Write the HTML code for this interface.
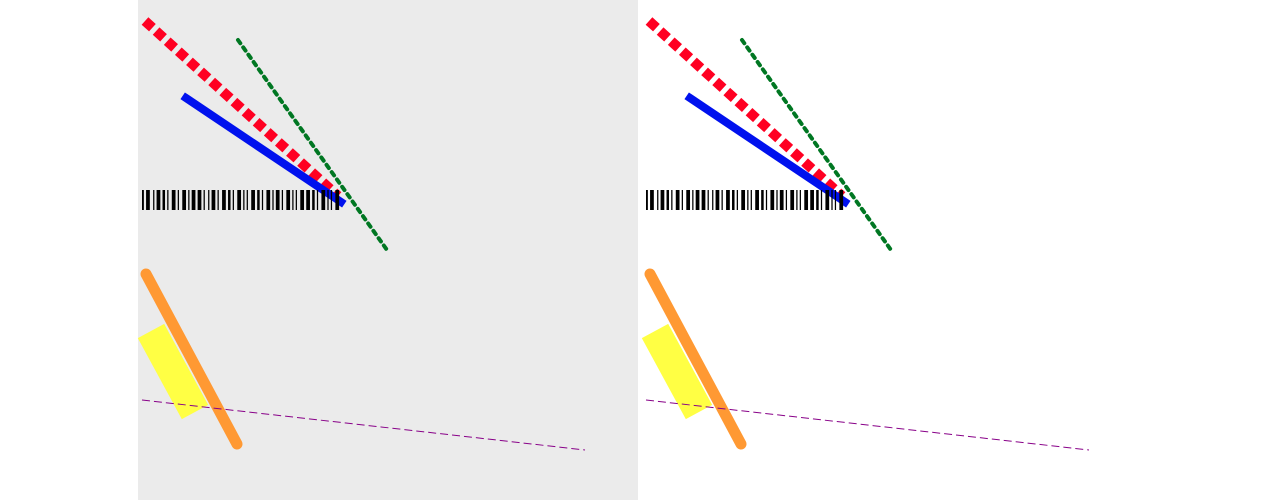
<!DOCTYPE html>
<html><head><meta charset="utf-8"><style>
html,body{margin:0;padding:0;background:#fff;width:1280px;height:504px;overflow:hidden}
svg{display:block}
</style></head><body>
<svg id="chart" width="1280" height="504" xmlns="http://www.w3.org/2000/svg">
<rect x="138" y="0" width="500" height="500" fill="#ebebeb"/>
<g id="left"></g>
<g id="right"></g>
</svg>
<script>
const seriesNames=['red-dashed','green-dotted','blue-solid','orange-round','yellow-wide','purple-dashed'];
const x1Values=[7,100,48,8,13,4];
const y1Values=[21,40,98,274,331,400];
const x2Values=[200,249,203,99,57,447];
const y2Values=[196,250,202,444,412,450];
const colors=['#ff0022','#007722','#0011ee','#ff9933','#ffff44','#880088'];
const widths=[10,4,8,11,30,1];
const dashes=['10 5','4 5','','','','8 4'];
const caps=['butt','round','square','round','butt','butt'];
const barcodeWidths=[1.5,3,1,3,2,1,3,1,3,1,3,3,1,1,3,1,3,2,1,3,1,1,3,2,1,3,1,3,1,3,1,1,3,3,2,1,3,1,1,3,3];
const barcodeGaps=[2,3,2,2,2,3,2,3,2,2,2,2,3,2,2,3,2,2,3,2,2,3,2,2,3,2,2,2,3,2,2,3,2,2,2,3,2,2,3,2,2];
const NS='http://www.w3.org/2000/svg';
function draw(g,ox){
  for(let i=0;i<seriesNames.length;i++){
    const l=document.createElementNS(NS,'line');
    
    
    l.setAttribute('x1',ox+x1Values[i]);l.setAttribute('y1',y1Values[i]);
    l.setAttribute('x2',ox+x2Values[i]);l.setAttribute('y2',y2Values[i]);
    l.setAttribute('stroke',colors[i]);l.setAttribute('stroke-width',widths[i]);
    l.setAttribute('stroke-linecap',caps[i]);
    if(dashes[i])l.setAttribute('stroke-dasharray',dashes[i]);
    g.appendChild(l);
  }
  let x=ox+4;
  for(let i=0;i<barcodeWidths.length&&x<ox+198;i++){
    const r=document.createElementNS(NS,'rect');
    
    
    r.setAttribute('x',x);r.setAttribute('y',190);
    r.setAttribute('width',barcodeWidths[i]*1.25);r.setAttribute('height',20);
    r.setAttribute('fill','#000');
    g.appendChild(r);
    x+=barcodeWidths[i]*1.25+barcodeGaps[i]*1.1;
  }
}
draw(document.getElementById('left'),138);
draw(document.getElementById('right'),642);
</script>
</body></html>
